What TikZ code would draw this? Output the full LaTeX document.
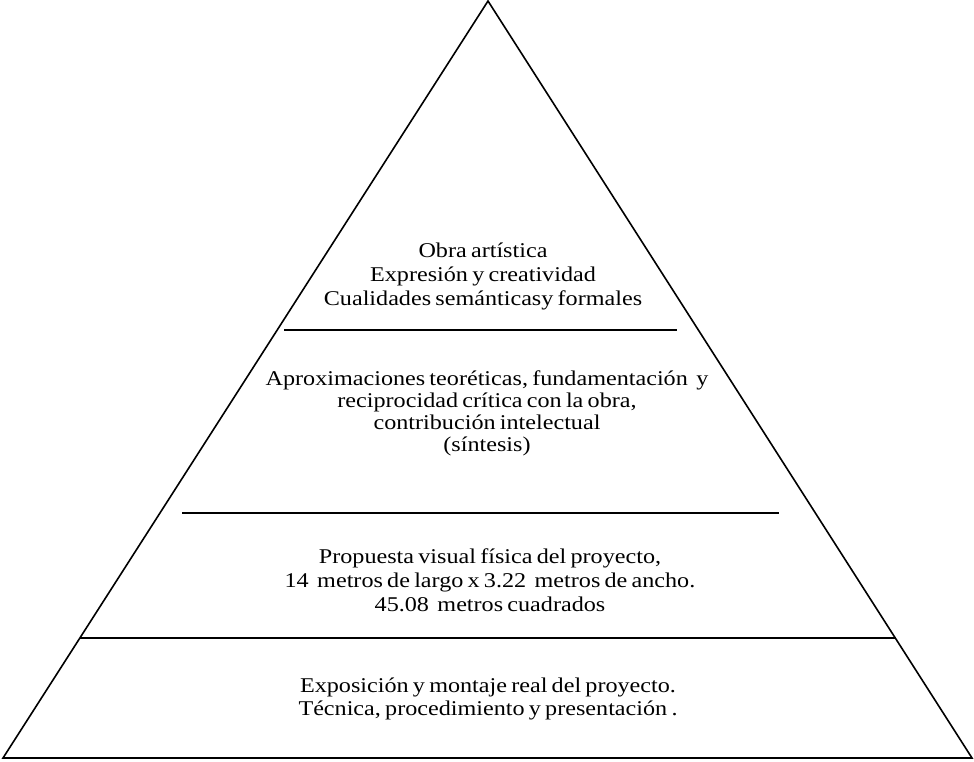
\documentclass[tikz,border=0pt]{standalone}
\usepackage{fontspec}
\setmainfont{Liberation Serif}[FakeStretch=1.15,WordSpace=0.7]
\begin{document}
\begin{tikzpicture}[x=1pt,y=-1pt,
  edge/.style={line width=1.6pt},
  lbl/.style={align=center,font=\fontsize{21}{24}\selectfont,inner sep=0pt}]
\useasboundingbox (0,0) rectangle (974,761);
\coordinate (apex) at (488,1);
\coordinate (bl) at (3,758);
\coordinate (br) at (972,758);
\draw[edge,line join=miter] (apex) -- (br) -- (bl) -- cycle;
\coordinate (l1a) at (284,330); \coordinate (l1b) at (677,330);
\coordinate (l2a) at (182,513); \coordinate (l2b) at (779,513);
\coordinate (l3a) at (80,638);  \coordinate (l3b) at (896,638);
\draw[edge] (l1a) -- (l1b);
\draw[edge] (l2a) -- (l2b);
\draw[edge] (l3a) -- (l3b);
\node[lbl] (t1) at (483,276) {Obra artística\\Expresión y creatividad\\Cualidades semánticasy formales};
\node[lbl,font=\fontsize{21}{22}\selectfont] (t2) at (487,413) {Aproximaciones teoréticas, fundamentación\ \ y\\reciprocidad crítica con la obra,\\contribución intelectual\\(síntesis)};
\node[lbl] (t3) at (490,580) {Propuesta visual física del proyecto,\\14\ \ metros de largo x 3.22\ \ metros de ancho.\\45.08\ \ metros cuadrados};
\node[lbl,font=\fontsize{21}{23}\selectfont] (t4) at (488,699) {Exposición y montaje real del proyecto.\\Técnica, procedimiento y presentación .};
\end{tikzpicture}
\end{document}
